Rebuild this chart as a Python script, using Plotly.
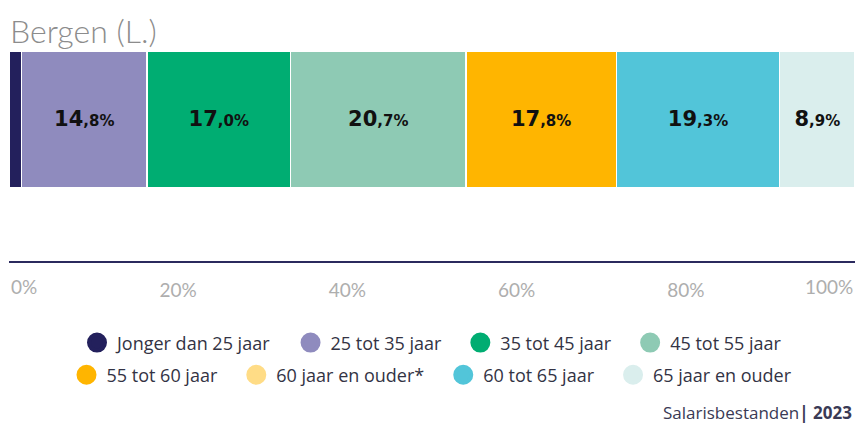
import plotly.graph_objects as go

categories = ["Jonger dan 25 jaar", "25 tot 35 jaar", "35 tot 45 jaar", "45 tot 55 jaar",
              "55 tot 60 jaar", "60 jaar en ouder*", "60 tot 65 jaar", "65 jaar en ouder"]
values = [1.5, 14.8, 17.0, 20.7, 17.8, 0.0, 19.3, 8.9]
colors = ["#23205c", "#8f8bbe", "#00ad72", "#8ecab4", "#ffb500", "#ffdc86", "#52c5d9", "#daeeed"]
tick_vals = [0, 20, 40, 60, 80, 100]
tick_text = ["0%", "20%", "40%", "60%", "80%", "100%"]
region = "Bergen (L.)"
source = "Salarisbestanden"
year = "2023"

def fmt(v):
    if v < 5:
        return ""
    s = f"{v:.1f}".split(".")
    return f"<b>{s[0]}</b><span style='font-size:15px'><b>,{s[1]}%</b></span>"

fig = go.Figure()
for i, (c, v, col) in enumerate(zip(categories, values, colors)):
    fig.add_trace(go.Bar(
        x=[v], y=[0.674], width=[0.652], orientation="h",
        marker=dict(color=col, line=dict(color="white", width=1.5)),
        text=[fmt(v)], textposition="inside", insidetextanchor="middle",
        textfont=dict(family="DejaVu Sans", size=21, color="#111111"),
        cliponaxis=False, showlegend=False, hoverinfo="skip",
    ))
n_row1 = 4
for i, (c, col) in enumerate(zip(categories, colors)):
    last_in_row = (i == n_row1 - 1) or (i == len(categories) - 1)
    fig.add_trace(go.Scatter(
        x=[None], y=[None], mode="markers",
        name=c if last_in_row else c + "\u00a0\u00a0\u00a0",
        marker=dict(symbol="circle", size=16, color=col, line=dict(color=col, width=4)),
        legend="legend" if i < n_row1 else "legend2",
    ))

legend_font = dict(family="Open Sans", size=18, color="#333344")
fig.update_layout(
    width=855, height=425,
    margin=dict(l=9, r=0, t=51, b=164),
    paper_bgcolor="white", plot_bgcolor="white",
    barmode="stack",
    uniformtext=dict(mode="show", minsize=8),
    xaxis=dict(range=[0, 100], showgrid=False, zeroline=False,
               showline=True, linecolor="#2b2a5e", linewidth=2,
               tickmode="array", tickvals=tick_vals[1:-1], ticktext=tick_text[1:-1],
               ticks="", ticklabelstandoff=11,
               tickfont=dict(family="Lato", size=19, color="#aeaeae"), fixedrange=True),
    yaxis=dict(range=[0, 1], visible=False, fixedrange=True),
    legend=dict(orientation="h", x=0.5, xanchor="center", y=-0.39, yanchor="middle",
                font=legend_font, itemwidth=30, traceorder="normal",
                bgcolor="rgba(0,0,0,0)"),
    legend2=dict(orientation="h", x=0.5, xanchor="center", y=-0.543, yanchor="middle",
                 font=legend_font, itemwidth=30, traceorder="normal",
                 bgcolor="rgba(0,0,0,0)"),
    annotations=[
        dict(text=region, x=0, y=1, xref="paper", yref="paper", xanchor="left", yanchor="bottom",
             xshift=-1, yshift=-1, showarrow=False, font=dict(family="Lato", size=32, color="#8c8c8c", weight=300)),
        dict(text=tick_text[0], x=tick_vals[0], y=0, xref="x", yref="paper", xanchor="left", yanchor="middle",
             yshift=-25, showarrow=False, font=dict(family="Lato", size=19, color="#aeaeae")),
        dict(text=tick_text[-1], x=tick_vals[-1], y=0, xref="x", yref="paper", xanchor="right", yanchor="middle",
             yshift=-25, showarrow=False, font=dict(family="Lato", size=19, color="#aeaeae")),
        dict(text=f"{source}<b>| {year}</b>", x=1, y=-0.72, xref="paper", yref="paper",
             xanchor="right", yanchor="middle", xshift=-1, showarrow=False,
             font=dict(family="Open Sans", size=17, color="#3a3a55")),
    ],
)
fig.write_html("out.html", config={"displayModeBar": False},
               post_script="document.body.style.margin='0px';")
